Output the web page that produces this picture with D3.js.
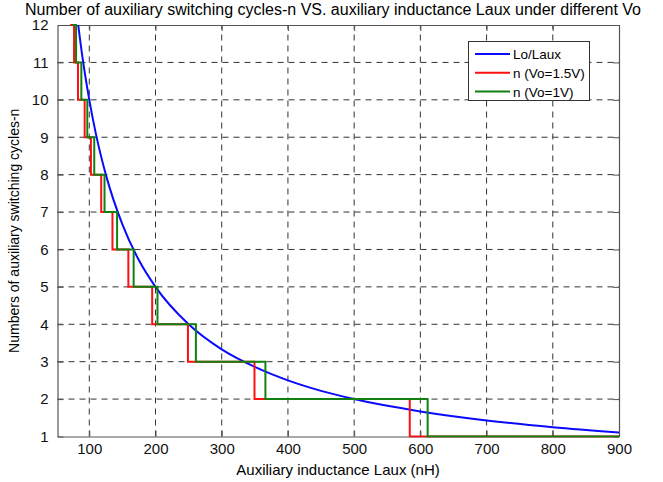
<!DOCTYPE html>
<html>
<head>
<meta charset="utf-8">
<script src="https://cdn.jsdelivr.net/npm/d3@7"></script>
<style>
  body { margin: 0; background: #fff; }
  text { font-family: "Liberation Sans", Arial, Helvetica, sans-serif; }
</style>
</head>
<body>
<svg id="chart" width="663" height="482"></svg>
<script>
// Axis ticks
const xTicks = [100, 200, 300, 400, 500, 600, 700, 800, 900];
const yTicks = [1, 2, 3, 4, 5, 6, 7, 8, 9, 10, 11, 12];

// Lo/Laux curve readings (Laux in nH, ratio)
const curveLaux  = [83.3, 90, 100, 110, 125, 150, 175, 200, 250, 300, 350, 400, 450, 500, 600, 700, 800, 900];
const curveRatio = [12, 11.1, 10, 9.09, 8, 6.67, 5.71, 5, 4, 3.33, 2.86, 2.5, 2.22, 2, 1.67, 1.43, 1.25, 1.11];

// Laux values (nH) where n steps down by one, from n=12 to n=1
const stepsStart = 12;
const dropsVo15 = [77, 83, 93, 102.5, 118, 135, 159, 195, 249, 349.5, 584];
const dropsVo1  = [80, 88, 97, 107.5, 123, 142, 167, 203, 261, 366, 611];
const startVo15 = 71;
const startVo1  = 74;

const seriesNames = ["Lo/Laux", "n (Vo=1.5V)", "n (Vo=1V)"];
const seriesColors = ["#0a0aff", "#ff1010", "#108010"];

const W = 663, H = 482;
const m = { left: 57.5, right: 44, top: 25, bottom: 45.5 };
const svg = d3.select("#chart");

const x = d3.scaleLinear().domain([52, 900]).range([m.left, W - m.right]);
const y = d3.scaleLinear().domain([1, 12]).range([H - m.bottom, m.top]);

// Title
svg.append("text")
  .attr("x", 333).attr("y", 15)
  .attr("text-anchor", "middle")
  .attr("font-size", 16)
  .text("Number of auxiliary switching cycles-n VS. auxiliary inductance Laux under different Vo");

// Grid
const grid = svg.append("g").attr("stroke", "#333").attr("stroke-width", 1)
  .attr("stroke-dasharray", "6,5").attr("fill", "none");
xTicks.filter(v => v < 900).forEach(v => {
  grid.append("line").attr("x1", x(v)).attr("x2", x(v)).attr("y1", y(1)).attr("y2", y(12));
});
yTicks.filter(v => v > 1 && v < 12).forEach(v => {
  grid.append("line").attr("x1", x(52)).attr("x2", x(900)).attr("y1", y(v)).attr("y2", y(v));
});

// Axes (ticks inside, on all four sides)
const tl = 6;
const xb = svg.append("g").attr("transform", `translate(0,${y(1)})`)
  .call(d3.axisBottom(x).tickValues(xTicks).tickSizeInner(-tl).tickSizeOuter(0).tickPadding(7));
const xt = svg.append("g").attr("transform", `translate(0,${y(12)})`)
  .call(d3.axisTop(x).tickValues(xTicks).tickSizeInner(-tl).tickSizeOuter(0).tickFormat(""));
const yl = svg.append("g").attr("transform", `translate(${x(52)},0)`)
  .call(d3.axisLeft(y).tickValues(yTicks).tickSizeInner(-tl).tickSizeOuter(0).tickPadding(9));
const yr = svg.append("g").attr("transform", `translate(${x(900)},0)`)
  .call(d3.axisRight(y).tickValues(yTicks).tickSizeInner(-tl).tickSizeOuter(0).tickFormat(""));
[xb, xt, yl, yr].forEach(g => {
  g.selectAll("path.domain").attr("stroke", "#555").attr("stroke-width", 1.2);
  g.selectAll(".tick line").attr("stroke", "#555");
  g.selectAll("text").attr("font-size", 15).attr("fill", "#111")
    .attr("font-family", "'Liberation Sans', Arial, sans-serif");
});

// Clip for the data
svg.append("clipPath").attr("id", "plotClip").append("rect")
  .attr("x", x(52)).attr("y", y(12) - 1)
  .attr("width", x(900) - x(52)).attr("height", y(1) - y(12) + 2);
const plot = svg.append("g").attr("clip-path", "url(#plotClip)");

function stepPoints(start, drops) {
  const pts = [[start, stepsStart]];
  drops.forEach((d, i) => {
    const level = stepsStart - i;
    pts.push([d, level]);
    pts.push([d, level - 1]);
  });
  pts.push([900, stepsStart - drops.length]);
  return pts;
}

const line = d3.line().x(d => x(d[0])).y(d => y(d[1]));
const curveLine = d3.line().x(d => x(d[0])).y(d => y(d[1])).curve(d3.curveMonotoneX);

plot.append("path")
  .datum(curveLaux.map((v, i) => [v, curveRatio[i]]))
  .attr("fill", "none").attr("stroke", seriesColors[0]).attr("stroke-width", 2)
  .attr("d", curveLine);
plot.append("path")
  .datum(stepPoints(startVo15, dropsVo15))
  .attr("fill", "none").attr("stroke", seriesColors[1]).attr("stroke-width", 2)
  .attr("d", line);
plot.append("path")
  .datum(stepPoints(startVo1, dropsVo1))
  .attr("fill", "none").attr("stroke", seriesColors[2]).attr("stroke-width", 2)
  .attr("d", line);

// Axis labels
svg.append("text")
  .attr("x", 338).attr("y", 475)
  .attr("text-anchor", "middle").attr("font-size", 15)
  .text("Auxiliary inductance Laux (nH)");
svg.append("text")
  .attr("transform", `translate(19,${(y(1) + y(12)) / 2}) rotate(-90)`)
  .attr("text-anchor", "middle").attr("font-size", 14)
  .text("Numbers of auxiliary switching cycles-n");

// Legend
const lg = svg.append("g");
lg.append("rect").attr("x", 468.5).attr("y", 41.5).attr("width", 121).attr("height", 59)
  .attr("fill", "#fff").attr("stroke", "#333").attr("stroke-width", 1);
seriesNames.forEach((name, i) => {
  const yy = 54 + i * 18.8;
  lg.append("line").attr("x1", 475).attr("x2", 510).attr("y1", yy).attr("y2", yy)
    .attr("stroke", seriesColors[i]).attr("stroke-width", 2);
  lg.append("text").attr("x", 513).attr("y", yy + 5).attr("font-size", 13.5).text(name);
});
</script>
</body>
</html>
